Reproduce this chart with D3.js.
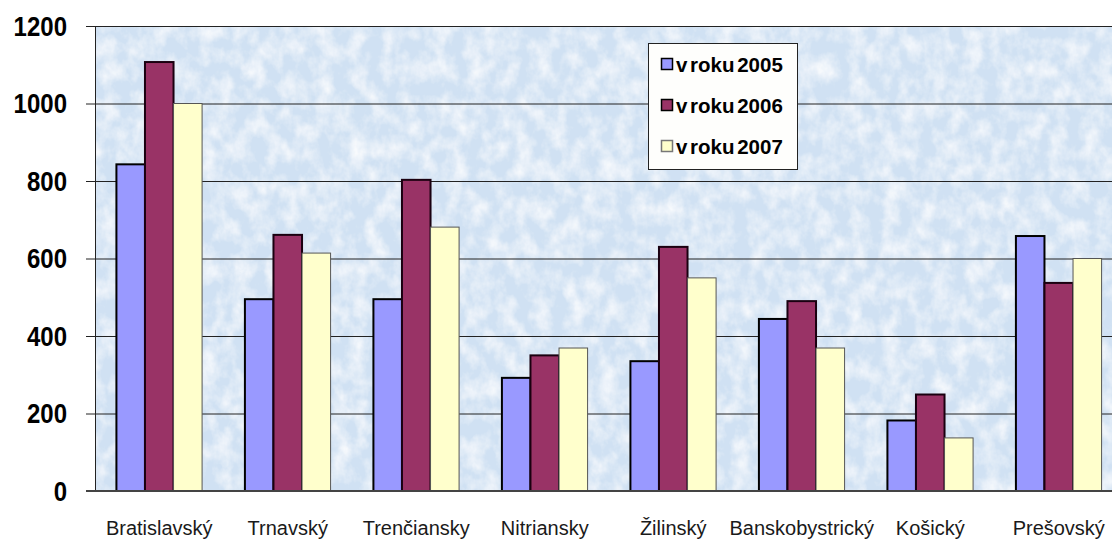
<!DOCTYPE html>
<html>
<head>
<meta charset="utf-8">
<script src="https://cdn.jsdelivr.net/npm/d3@7"></script>
<style>
  body { margin: 0; background: #ffffff; }
  svg { display: block; }
</style>
</head>
<body>
<script>
"use strict";

var kraje = ["Bratislavský", "Trnavský", "Trenčiansky", "Nitriansky", "Žilinský", "Banskobystrický", "Košický", "Prešovský"];
var roky = ["v roku 2005", "v roku 2006", "v roku 2007"];
var rok2005 = [843, 495, 495, 292, 335, 444, 182, 658];
var rok2006 = [1107, 661, 803, 350, 630, 490, 249, 537];
var rok2007 = [1000, 614, 681, 369, 550, 369, 137, 600];
var yTicks = [0, 200, 400, 600, 800, 1000, 1200];

var farby = ["#9999ff", "#993366", "#ffffcc"];
var obrysy = ["#000000", "#1a0010", "#555555"];

var widthEcran = 1112, heightEcran = 539;
var plotLeft = 95, plotTop = 26, plotBottom = 491, plotRight = 1123;

var svg = d3.select("body").append("svg")
    .attr("width", widthEcran)
    .attr("height", heightEcran);

// mramorove pozadie
var defs = svg.append("defs");
var f = defs.append("filter").attr("id", "mramor")
    .attr("x", 0).attr("y", 0).attr("width", 1).attr("height", 1);
f.append("feTurbulence").attr("type", "fractalNoise")
    .attr("baseFrequency", "0.06 0.05").attr("numOctaves", 4).attr("seed", 3).attr("result", "sum");
f.append("feColorMatrix").attr("in", "sum").attr("type", "matrix")
    .attr("values", "0 0 0 0 1  0 0 0 0 1  0 0 0 0 1  1.5 0 0 0 -0.55")
    .attr("result", "biele");
var m = f.append("feMerge");
m.append("feMergeNode").attr("in", "SourceGraphic");
m.append("feMergeNode").attr("in", "biele");

svg.append("rect")
    .attr("x", plotLeft).attr("y", plotTop)
    .attr("width", plotRight - plotLeft).attr("height", plotBottom - plotTop)
    .attr("fill", "#d0e1f3")
    .attr("filter", "url(#mramor)");

var y = d3.scaleLinear().domain([0, 1200]).range([plotBottom, plotTop]);
var x0 = d3.scaleBand().domain(kraje).range([plotLeft, plotRight]).paddingInner(1 / 3).paddingOuter(1 / 6);
var x1 = d3.scaleBand().domain(roky).range([0, x0.bandwidth()]);

// mriezka
svg.append("g")
    .selectAll("line")
    .data(yTicks.filter(function (d) { return d > 0; }))
    .join("line")
    .attr("x1", plotLeft - 9).attr("x2", plotRight)
    .attr("y1", function (d) { return y(d) + 0.5; })
    .attr("y2", function (d) { return y(d) + 0.5; })
    .attr("stroke", "#222")
    .attr("stroke-width", 1);

// stlpce
var series = [rok2005, rok2006, rok2007];
series.forEach(function (vals, i) {
    svg.append("g")
        .selectAll("rect")
        .data(vals)
        .join("rect")
        .attr("x", function (d, j) { return x0(kraje[j]) + x1(roky[i]); })
        .attr("y", function (d) { return y(d); })
        .attr("width", x1.bandwidth())
        .attr("height", function (d) { return plotBottom - y(d); })
        .attr("fill", farby[i])
        .attr("stroke", obrysy[i])
        .attr("stroke-width", i == 2 ? 1 : 2);
});

// osi
svg.append("line")
    .attr("x1", plotLeft + 0.5).attr("x2", plotLeft + 0.5)
    .attr("y1", plotTop).attr("y2", plotBottom)
    .attr("stroke", "#222");
svg.append("line")
    .attr("x1", plotLeft - 9).attr("x2", plotRight)
    .attr("y1", plotBottom).attr("y2", plotBottom)
    .attr("stroke", "#444").attr("stroke-width", 2);

svg.append("g")
    .selectAll("text")
    .data(yTicks)
    .join("text")
    .attr("transform", function (d) { return "translate(67," + y(d) + ") scale(1,1.12)"; })
    .attr("dy", "0.36em")
    .attr("text-anchor", "end")
    .attr("font-family", "Liberation Sans, Arial, sans-serif")
    .attr("font-weight", "bold")
    .attr("font-size", 24)
    .attr("fill", "#000")
    .text(function (d) { return d; });

svg.append("g")
    .selectAll("text")
    .data(kraje)
    .join("text")
    .attr("x", function (d) { return x0(d) + x0.bandwidth() / 2; })
    .attr("y", 535)
    .attr("text-anchor", "middle")
    .attr("font-family", "Liberation Sans, Arial, sans-serif")
    .attr("font-size", 20)
    .attr("fill", "#1a1a1a")
    .text(function (d) { return d; });

// legenda
var leg = svg.append("g");
leg.append("rect")
    .attr("x", 648.5).attr("y", 43.5)
    .attr("width", 149).attr("height", 126)
    .attr("fill", "#fefefc")
    .attr("stroke", "#222");
roky.forEach(function (r, i) {
    var cy = 65 + i * 41;
    leg.append("rect")
        .attr("x", 661.5).attr("y", cy - 6.5)
        .attr("width", 11).attr("height", 11)
        .attr("fill", farby[i])
        .attr("stroke", i == 2 ? "#777" : "#000")
        .attr("stroke-width", 1.5);
    leg.append("text")
        .attr("x", 676).attr("y", cy)
        .attr("dy", "0.36em")
        .attr("font-family", "Liberation Sans, Arial, sans-serif")
        .attr("font-weight", "bold")
        .attr("font-size", 20.5)
        .attr("word-spacing", -3)
        .attr("fill", "#000")
        .text(r);
});
</script>
</body>
</html>
